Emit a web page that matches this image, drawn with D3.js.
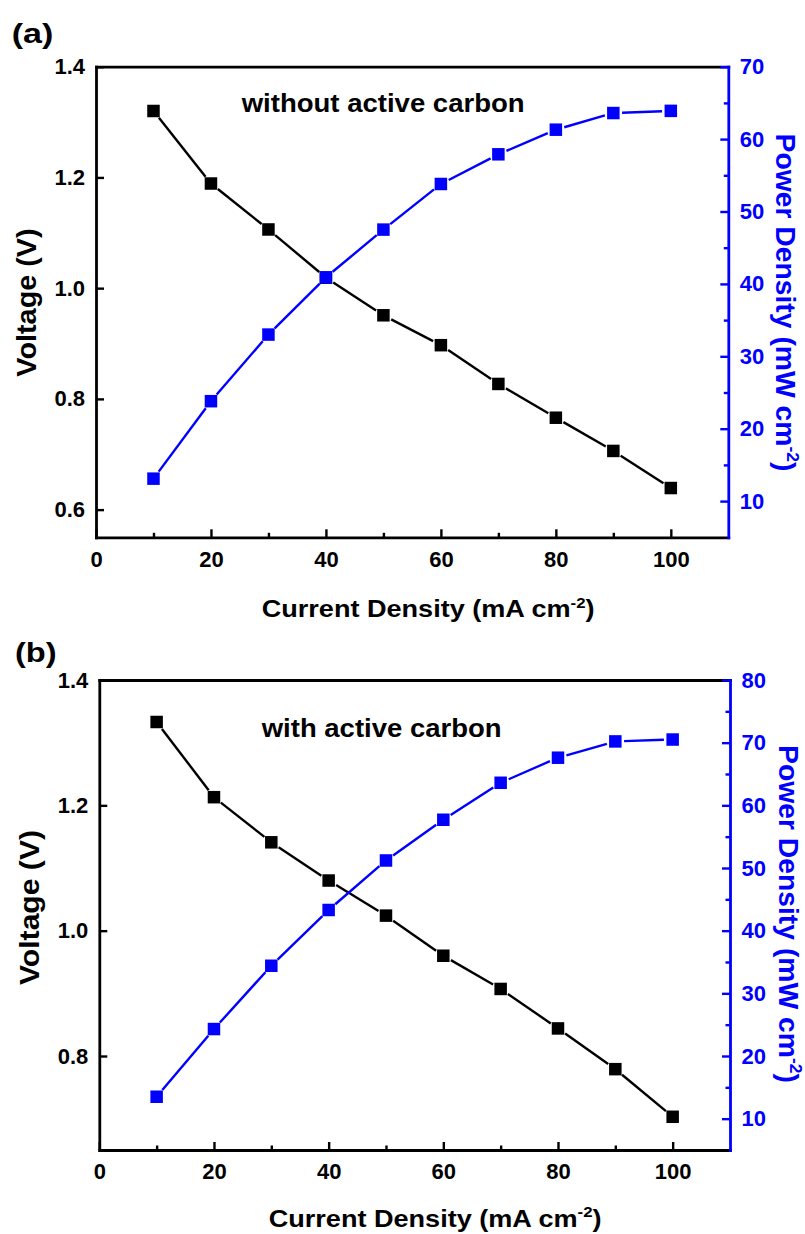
<!DOCTYPE html>
<html>
<head>
<meta charset="utf-8">
<script src="https://cdn.jsdelivr.net/npm/d3@7"></script>
<style>
  html, body { margin: 0; padding: 0; background: #fff; }
  svg { display: block; }
  text { font-family: "Liberation Sans", Arial, sans-serif; font-weight: bold; }
</style>
</head>
<body>
<svg id="chart" width="805" height="1234"></svg>
<script>
// ---------- data ----------
const currentDensity = [10, 20, 30, 40, 50, 60, 70, 80, 90, 100];
const voltageA = [1.320, 1.189, 1.106, 1.019, 0.951, 0.897, 0.827, 0.766, 0.706, 0.639];
const powerA   = [13.1, 23.8, 33.0, 40.9, 47.5, 53.8, 57.9, 61.3, 63.6, 63.9];
const voltageB = [1.333, 1.213, 1.141, 1.080, 1.024, 0.960, 0.907, 0.844, 0.779, 0.703];
const powerB   = [13.5, 24.3, 34.4, 43.3, 51.2, 57.7, 63.6, 67.6, 70.2, 70.5];

const xDomain = [0, 110];
const xMajorTicks = [0, 20, 40, 60, 80, 100];
const xMinorTicks = [10, 30, 50, 70, 90];

const vDomainA = [0.55, 1.4];
const vTicksA = [0.6, 0.8, 1.0, 1.2, 1.4];
const pDomainA = [5, 70];
const pTicksA = [10, 20, 30, 40, 50, 60, 70];
const pMinorA = [15, 25, 35, 45, 55, 65];

const vDomainB = [0.65, 1.4];
const vTicksB = [0.8, 1.0, 1.2, 1.4];
const pDomainB = [5, 80];
const pTicksB = [10, 20, 30, 40, 50, 60, 70, 80];
const pMinorB = [15, 25, 35, 45, 55, 65, 75];

const panelLabels = ["(a)", "(b)"];
const annotations = ["without active carbon", "with active carbon"];
const xTitle = "Current Density (mA cm";
const yLeftTitle = "Voltage (V)";
const yRightTitle = "Power Density (mW cm";

// ---------- style ----------
const BLUE = "#0000ff";
const BLACK = "#000000";

const svg = d3.select("#chart");

function fitText(sel, x, y, rot, targetLen) {
  const w = sel.node().getComputedTextLength();
  const s = targetLen ? targetLen / w : 1;
  sel.attr("x", 0).attr("y", 0)
     .attr("transform", `translate(${x},${y}) rotate(${rot}) scale(${s},1)`);
}

function addSupTitle(g, base, fs, color) {
  const t = g.append("text").attr("font-size", fs).attr("fill", color).attr("text-anchor", "middle");
  t.append("tspan").text(base);
  t.append("tspan").attr("dy", -fs * 0.4).attr("font-size", fs * 0.62).text("-2");
  t.append("tspan").attr("dy", fs * 0.4).text(")");
  return t;
}

function drawPanel(cfg) {
  const g = svg.append("g");
  const x = d3.scaleLinear().domain(xDomain).range([cfg.L, cfg.R]);
  const yV = d3.scaleLinear().domain(cfg.vDomain).range([cfg.B, cfg.T]);
  const yP = d3.scaleLinear().domain(cfg.pDomain).range([cfg.B, cfg.T]);

  const axisW = 2.8;

  const xAxis = g.append("g").attr("transform", `translate(0,${cfg.B})`)
    .call(d3.axisBottom(x).tickValues(xMajorTicks).tickSizeInner(-8).tickSizeOuter(0).tickPadding(cfg.xPad).tickFormat(d3.format("d")));
  const xMinor = g.append("g").attr("transform", `translate(0,${cfg.B})`)
    .call(d3.axisBottom(x).tickValues(xMinorTicks).tickSizeInner(-4.5).tickSizeOuter(0).tickFormat(""));
  xMinor.select(".domain").remove();

  const xTop = g.append("g").attr("transform", `translate(0,${cfg.T})`)
    .call(d3.axisTop(x).tickValues([]).tickSizeOuter(0));

  const yAxisL = g.append("g").attr("transform", `translate(${cfg.L},0)`)
    .call(d3.axisLeft(yV).tickValues(cfg.vTicks).tickSizeInner(-8).tickSizeOuter(0).tickPadding(11).tickFormat(d3.format(".1f")));

  const yAxisR = g.append("g").attr("transform", `translate(${cfg.R},0)`)
    .call(d3.axisRight(yP).tickValues(cfg.pTicks).tickSizeInner(-8).tickSizeOuter(0).tickPadding(11.5).tickFormat(d3.format("d")));
  const yMinorR = g.append("g").attr("transform", `translate(${cfg.R},0)`)
    .call(d3.axisRight(yP).tickValues(cfg.pMinor).tickSizeInner(-4.5).tickSizeOuter(0).tickFormat(""));
  yMinorR.select(".domain").remove();

  [xAxis, xMinor, xTop, yAxisL].forEach(a => {
    a.selectAll(".domain").attr("stroke", BLACK).attr("stroke-width", axisW).attr("stroke-linecap", "square");
    a.selectAll(".tick line").attr("stroke", BLACK).attr("stroke-width", 2.4);
    a.selectAll(".tick text").attr("fill", BLACK).attr("font-size", 22).attr("font-family", null);
  });
  [yAxisR, yMinorR].forEach(a => {
    a.selectAll(".domain").attr("stroke", BLUE).attr("stroke-width", axisW).attr("stroke-linecap", "square");
    a.selectAll(".tick line").attr("stroke", BLUE).attr("stroke-width", 2.4);
    a.selectAll(".tick text").attr("fill", BLUE).attr("font-size", 22).attr("font-family", null);
  });

  const msize = 12.5, gap = msize / 2 + 2.5;
  function series(vals, yScale, color) {
    const pts = currentDensity.map((c, i) => [x(c), yScale(vals[i])]);
    const segs = d3.pairs(pts).map(([a, b]) => {
      const dx = b[0] - a[0], dy = b[1] - a[1], len = Math.hypot(dx, dy);
      const ux = dx / len, uy = dy / len;
      return [a[0] + ux * gap, a[1] + uy * gap, b[0] - ux * gap, b[1] - uy * gap];
    });
    g.append("g").selectAll("line").data(segs).join("line")
      .attr("x1", d => d[0]).attr("y1", d => d[1]).attr("x2", d => d[2]).attr("y2", d => d[3])
      .attr("stroke", color).attr("stroke-width", 2.4);
    g.append("g").selectAll("rect").data(pts).join("rect")
      .attr("x", d => d[0] - msize / 2).attr("y", d => d[1] - msize / 2)
      .attr("width", msize).attr("height", msize).attr("fill", color);
  }
  series(cfg.voltage, yV, BLACK);
  series(cfg.power, yP, BLUE);

  const pl = g.append("text").attr("font-size", 27).attr("fill", BLACK).text(cfg.label);
  fitText(pl, cfg.labelX, cfg.labelY, 0, cfg.labelW);

  const an = g.append("text").attr("font-size", 26).attr("fill", BLACK).text(cfg.note);
  fitText(an, cfg.noteX, cfg.noteY, 0, cfg.noteW);

  const xt = addSupTitle(g, xTitle, 23, BLACK).attr("text-anchor", "start");
  fitText(xt, cfg.xtX, cfg.xtY, 0, cfg.xtW);

  const yl = g.append("text").attr("font-size", 28).attr("fill", BLACK).attr("text-anchor", "middle").text(yLeftTitle);
  fitText(yl, cfg.ylX, cfg.ylY, -90, cfg.ylW);

  const yr = addSupTitle(g, yRightTitle, 28, BLUE);
  fitText(yr, cfg.yrX, cfg.yrY, 90, cfg.yrW);
}

drawPanel({
  L: 96, R: 728.3, T: 66.7, B: 537.3, xPad: 14.5,
  vDomain: vDomainA, vTicks: vTicksA, pDomain: pDomainA, pTicks: pTicksA, pMinor: pMinorA,
  voltage: voltageA, power: powerA,
  label: panelLabels[0], labelX: 11.7, labelY: 43, labelW: 41.6,
  note: annotations[0], noteX: 241.7, noteY: 111.7, noteW: 283,
  xtX: 261.7, xtY: 616.7, xtW: 333,
  ylX: 35.5, ylY: 302.5, ylW: 148.5,
  yrX: 776, yrY: 302.5, yrW: 338
});

drawPanel({
  L: 99.3, R: 730, T: 680, B: 1150, xPad: 13.5,
  vDomain: vDomainB, vTicks: vTicksB, pDomain: pDomainB, pTicks: pTicksB, pMinor: pMinorB,
  voltage: voltageB, power: powerB,
  label: panelLabels[1], labelX: 15, labelY: 662, labelW: 41.7,
  note: annotations[1], noteX: 261.7, noteY: 736.7, noteW: 240,
  xtX: 268.7, xtY: 1226.5, xtW: 333,
  ylX: 38.5, ylY: 907.5, ylW: 155,
  yrX: 779, yrY: 914, yrW: 338
});
</script>
</body>
</html>
